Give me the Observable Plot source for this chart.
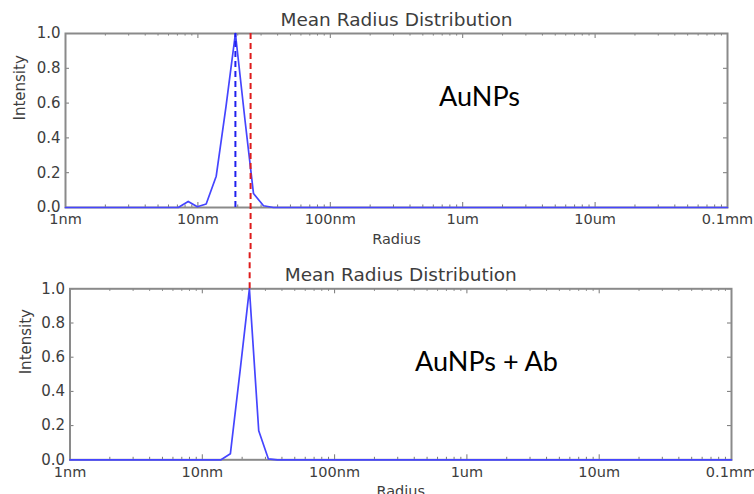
<!DOCTYPE html>
<html><head><meta charset="utf-8">
<script src="https://cdn.jsdelivr.net/npm/d3@7"></script>
<script src="https://cdn.jsdelivr.net/npm/@observablehq/plot@0.6"></script>
<style>
body{margin:0;background:#fff;}
#chart{width:754px;height:494px;position:relative;background:#fff;}
#chart svg{display:block;}
</style></head><body><div id="chart"></div>
<script>
// ---- data ----
const chartTitle = "Mean Radius Distribution";
const xLabel = "Radius";
const yLabel = "Intensity";
const xTickValues = [1, 10, 100, 1000, 10000, 100000];           // nm
const xTickLabels = ["1nm", "10nm", "100nm", "1um", "10um", "0.1mm"];
const yTickValues = [0, 0.2, 0.4, 0.6, 0.8, 1.0];

// AuNPs (top panel)
const radiusAuNPs    = [1, 7.1, 8.45, 9.9, 11.55, 13.75, 16.3, 19.2, 22.7, 26.3, 31.3, 37.2, 100000];
const intensityAuNPs = [0, 0,   0.035, 0.004, 0.02, 0.18, 0.58, 1.0, 0.5,  0.08, 0.01, 0,    0];
// AuNPs + Ab (bottom panel)
const radiusAuNPsAb    = [1, 13.85, 16.3, 19.3, 22.7, 26.7, 31.6, 37.0, 100000];
const intensityAuNPsAb = [0, 0,     0.035, 0.52, 1.0, 0.17, 0.005, 0,   0];

const meanAuNPs = 19.2;        // blue dashed line, top panel
const meanAbTop = 25;          // red dashed line, top panel
const meanAbBottom = 22.8;     // red dashed line, bottom panel

const panelLabels = ["AuNPs", "AuNPs + Ab"];
const panelLabelX = [1340, 1406];   // nm
const panelLabelY = [0.586, 0.522]; // intensity

// ---- helpers ----
const minorTicks = [];
for (const d of [1, 10, 100, 1000, 10000]) for (let m = 2; m <= 9; m++) minorTicks.push(d * m);
const tickFmt = d => xTickLabels[xTickValues.indexOf(d)];
const gray = "#8a8a8a";
const tickGray = "#777";
const textGray = "#3d3d3d";

function panel({radius, intensity, height, margin, labelIdx, rules, intensityDx}) {
  const rows = radius.map((r, i) => ({r, v: intensity[i]}));
  const W = 754;
  const ph = height - margin.top - margin.bottom;
  const pw = W - margin.left - margin.right;
  const tx = (len, where, data) => Plot.tickX(data, {x: d => d, stroke: tickGray, strokeWidth: 1,
    ...(where === "bottom" ? {insetTop: ph - len} : {insetBottom: ph - len})});
  const ty = (len, where) => Plot.tickY(yTickValues, {y: d => d, stroke: tickGray, strokeWidth: 1,
    ...(where === "left" ? {insetRight: pw - len} : {insetLeft: pw - len})});
  return Plot.plot({
    width: W, height,
    marginTop: margin.top, marginBottom: margin.bottom, marginLeft: margin.left, marginRight: margin.right,
    style: {fontFamily: "DejaVu Sans", fontSize: "15px", color: textGray, background: "white", overflow: "visible"},
    x: {type: "log", domain: [1, 100000]},
    y: {domain: [0, 1]},
    marks: [
      // inward tick marks (matplotlib style)
      tx(5, "bottom", xTickValues), tx(5, "top", xTickValues),
      tx(2.5, "bottom", minorTicks), tx(2.5, "top", minorTicks),
      ty(4, "left"), ty(4, "right"),
      Plot.frame({stroke: gray, strokeWidth: 2}),
      // tick labels
      Plot.axisX(xTickValues, {anchor: "bottom", tickSize: 0, tickPadding: 6.5, tickFormat: tickFmt, label: null, fontSize: 14.5, fill: textGray}),
      Plot.axisY(yTickValues, {anchor: "left", tickSize: 0, tickPadding: 5, tickFormat: d3.format(".1f"), label: null, fontSize: 15, fill: textGray}),
      // titles
      Plot.text([chartTitle], {frameAnchor: "top", dy: -8, lineAnchor: "bottom", fontSize: 18.5, fill: textGray}),
      Plot.text([xLabel], {frameAnchor: "bottom", dy: 36, lineAnchor: "bottom", fontSize: 14.5, fill: textGray}),
      Plot.text([yLabel], {frameAnchor: "left", dx: intensityDx, rotate: -90, fontSize: 15, fill: textGray}),
      // data
      Plot.line(rows, {x: "r", y: "v", stroke: "#4545ff", strokeWidth: 1.7}),
      ...rules,
      Plot.text([panelLabels[labelIdx]], {x: () => panelLabelX[labelIdx], y: () => panelLabelY[labelIdx],
        fontFamily: "Lato", fontSize: 27, fill: "#000", lineAnchor: "bottom", textAnchor: "middle"})
    ]
  });
}

const topPanel = panel({
  radius: radiusAuNPs, intensity: intensityAuNPs, height: 250,
  margin: {top: 33, bottom: 43, left: 65, right: 27}, labelIdx: 0, intensityDx: -45,
  rules: [
    Plot.ruleX([meanAuNPs], {x: d => d, y1: 0, y2: 1, stroke: "#2020ee", strokeWidth: 2, strokeDasharray: "6,4"}),
    Plot.ruleX([meanAbTop], {x: d => d, y1: 1, y2: -0.25, stroke: "#dd1c1c", strokeWidth: 2, strokeDasharray: "6,4"})
  ]
});
const bottomPanel = panel({
  radius: radiusAuNPsAb, intensity: intensityAuNPsAb, height: 244,
  margin: {top: 38.3, bottom: 34.7, left: 69.5, right: 23}, labelIdx: 1, intensityDx: -43.5,
  rules: [
    Plot.ruleX([meanAbBottom], {x: d => d, y1: 1, y2: 1.224, stroke: "#dd1c1c", strokeWidth: 2, strokeDasharray: "6,4"})
  ]
});
const el = document.getElementById("chart");
el.appendChild(topPanel);
el.appendChild(bottomPanel);
</script>
</body></html>
